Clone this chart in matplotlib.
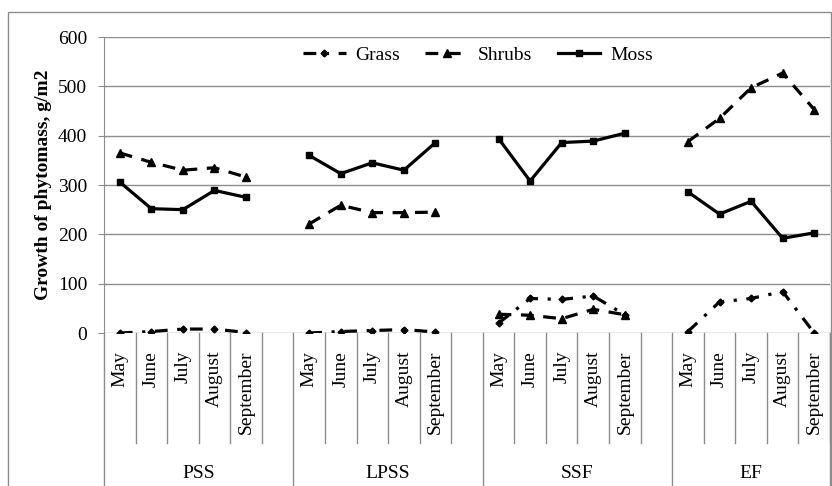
import matplotlib.pyplot as plt
import numpy as np
from matplotlib.patches import Rectangle
from matplotlib import transforms

# données
groups = ['PSS', 'LPSS', 'SSF', 'EF']
months = ['May', 'June', 'July', 'August', 'September']

grass = [[0, 3, 8, 8, 1], [0, 3, 5, 7, 2], [20, 70, 68, 75, 37], [3, 63, 70, 84, 0]]
shrubs = [[365, 346, 330, 335, 316], [221, 259, 244, 244, 245], [38, 36, 29, 48, 37], [388, 435, 497, 527, 453]]
moss = [[306, 252, 250, 289, 275], [360, 323, 345, 330, 386], [394, 308, 386, 389, 405], [286, 241, 267, 192, 203]]

plt.rcParams['font.family'] = ['Liberation Serif', 'DejaVu Serif']
grid_col = '#8c8c8c'

fig = plt.figure(figsize=(8.32, 4.86), dpi=100)
ax = fig.add_axes([104 / 832, 1 - 333 / 486, 726 / 832, 296 / 486])

# cadre extérieur
fig.patches.append(Rectangle((8 / 832, -0.01), 823 / 832, 1 - 12 / 486 + 0.01,
                             transform=fig.transFigure, fill=False,
                             edgecolor=grid_col, linewidth=1))

series = [
    ('Grass', grass, dict(linestyle=(0, (4, 3, 1, 3)), marker='D', markersize=3.5)),
    ('Shrubs', shrubs, dict(linestyle=(0, (4, 3)), marker='^', markersize=6)),
    ('Moss', moss, dict(linestyle='-', marker='s', markersize=5)),
]

n_slots = 6
for name, vals, style in series:
    for g in range(len(groups)):
        x = np.arange(len(months)) + g * n_slots
        ax.plot(x, vals[g], color='black', linewidth=2.3,
                label=name if g == 0 else None, **style)

ax.set_xlim(-0.5, len(groups) * n_slots - 1.5)
ax.set_ylim(0, 600)
ax.set_yticks(np.arange(0, 601, 100))
ax.tick_params(axis='y', labelsize=14, length=4, color=grid_col, pad=8)
ax.set_xticks([])
ax.yaxis.grid(True, color=grid_col, linewidth=1)
ax.set_axisbelow(True)
for s in ['top', 'right', 'bottom']:
    ax.spines[s].set_visible(False)
ax.spines['left'].set_color(grid_col)
ax.set_ylabel('Growth of phytomass, g/m2', fontsize=14, fontweight='bold', labelpad=4)

# axe des catégories à deux niveaux
trans = transforms.blended_transform_factory(ax.transData, ax.transAxes)
for g, grp in enumerate(groups):
    base = g * n_slots
    for m, mon in enumerate(months):
        ax.text(base + m, -0.06, mon, transform=trans, rotation=90,
                ha='center', va='top', fontsize=14)
        ax.plot([base + m + 0.5] * 2, [0, -0.372], transform=trans,
                color=grid_col, linewidth=1, clip_on=False)
    ax.text(base + 2.5 if g < 3 else base + 2, -0.473, grp, transform=trans,
            ha='center', va='center', fontsize=14)
    ax.plot([base - 0.5] * 2, [0, -0.6], transform=trans,
            color=grid_col, linewidth=1, clip_on=False)
ax.plot([len(groups) * n_slots - 1.5] * 2, [0, -0.6], transform=trans,
        color=grid_col, linewidth=1, clip_on=False)

ax.legend(loc='center', bbox_to_anchor=(0.515, 0.94), ncol=3, frameon=False,
          fontsize=14, handlelength=2.2, columnspacing=1.3, handletextpad=0.5)

plt.savefig('out.png', dpi=100)
